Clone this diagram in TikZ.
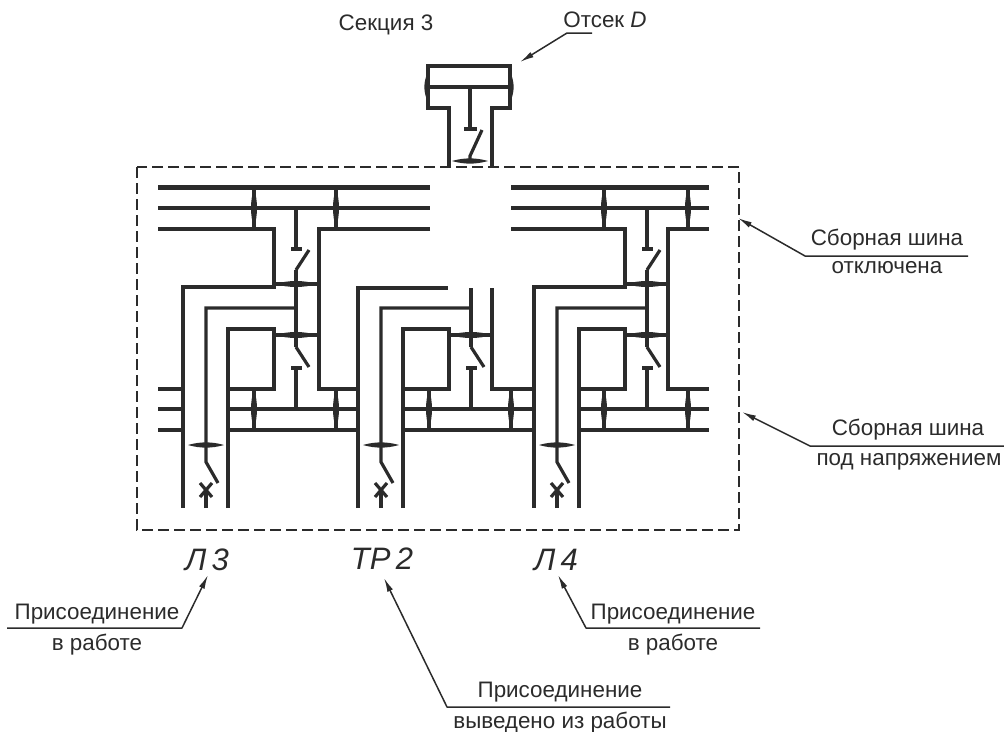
\documentclass[tikz,border=0pt]{standalone}
\usepackage{fontspec}
\setmainfont{Liberation Sans}
\usetikzlibrary{arrows.meta}
\definecolor{ink}{HTML}{2B2B2B}
\tikzset{
  wire/.style={draw=ink,line width=3.2pt,line join=miter},
  heavy/.style={draw=ink,line width=4.5pt},
  frame/.style={draw=ink,line width=1.8pt,dash pattern=on 11pt off 5pt},
  leader/.style={draw=ink,line width=1.5pt,line join=round},
  tipped/.style={leader,{Latex[length=14pt,width=6pt]}-},
  lab/.style={anchor=base,inner sep=0pt,text=ink,font=\fontsize{22.4}{26}\selectfont},
  tag/.style={anchor=base,inner sep=0pt,text=ink,font=\fontsize{31}{36}\selectfont\itshape},
  lensh/.pic={\fill[ink] (-21,0) .. controls (-7,-4) and (7,-4) .. (21,0) .. controls (7,4) and (-7,4) .. (-21,0);},
  lensf/.pic={\fill[ink] (-18,0) .. controls (-6,-3.5) and (6,-3.5) .. (18,0) .. controls (6,3.5) and (-6,3.5) .. (-18,0);},
  lensv/.pic={\fill[ink] (0,-20) .. controls (-4,-7) and (-4,7) .. (0,20) .. controls (4,7) and (4,-7) .. (0,-20);},
  lenss/.pic={\fill[ink] (0,-13) .. controls (-3.5,-4) and (-3.5,4) .. (0,13) .. controls (3.5,4) and (3.5,-4) .. (0,-13);}
}
\begin{document}
\begin{tikzpicture}[x=1pt,y=-1pt]
\useasboundingbox (0,0) rectangle (1004,731);
% frame
\draw[frame] (137,167) rectangle (739,530);
% compartment D
\draw[wire] (449,167) -- (449,108) -- (428,108) -- (428,66) -- (510,66) -- (510,108) -- (492,108) -- (492,167);
\draw[wire] (428,87) -- (510,87);
\draw[wire] (470,87) -- (470,129);
\draw[wire] (464,129) -- (477,129);
\draw[wire] (470,160) -- (470,156) -- (482,130);
\pic at (470,161) {lensf};
\pic at (427,87) {lenss};
\pic at (511,87) {lenss};
% upper buses
\draw[heavy] (158,187.5) -- (430,187.5);
\draw[heavy] (511,187.5) -- (709,187.5);
\draw[wire] (158,208) -- (430,208);
\draw[wire] (511,208) -- (709,208);
% left outer wiring
\draw[wire] (158,229) -- (274,229) -- (274,287) -- (183,287) -- (183,508);
\draw[wire] (430,229) -- (319,229) -- (319,389) -- (358,389);
% right outer wiring
\draw[wire] (511,229) -- (625,229) -- (625,287) -- (534,287) -- (534,508);
\draw[wire] (709,229) -- (668,229) -- (668,389) -- (709,389);
% centre wiring
\draw[wire] (358,508) -- (358,288) -- (448,288);
\draw[wire] (492,288) -- (492,389) -- (535,389);
\draw[wire] (448,335) -- (492,335);
% cross bars
\draw[wire] (319,284) -- (276,284);
\draw[wire] (319,335) -- (274,335);
\draw[wire] (668,284) -- (627,284);
\draw[wire] (668,335) -- (625,335);
% lower bus stubs
\draw[wire] (158,389) -- (183,389);
\draw[wire] (158,409) -- (183,409);
\draw[heavy] (158,430) -- (183,430);
% repeated feeder bays
\foreach \dx in {0,175,351}{
\begin{scope}[xshift=\dx pt]
\draw[wire] (296,308) -- (206,308) -- (206,462) -- (218,483);
\draw[wire] (206,508) -- (206,490);
\draw[wire] (200,483) -- (212,497) (212,483) -- (200,497);
\draw[wire] (228,508) -- (228,329) -- (274,329) -- (274,389) -- (228,389);
\pic at (206,445) {lensf};
\draw[wire] (296,347) -- (309,367);
\draw[wire] (291,368) -- (302,368);
\draw[wire] (296,368) -- (296,409);
\pic at (296,335) {lensh};
\end{scope}
}
% breaker stems
\draw[wire] (296,270) -- (296,347);
\draw[wire] (471,288) -- (471,347);
\draw[wire] (647,270) -- (647,347);
% lower buses
\draw[wire] (228,409) -- (358,409);
\draw[wire] (403,409) -- (535,409);
\draw[wire] (579,409) -- (709,409);
\draw[heavy] (228,430) -- (358,430);
\draw[heavy] (403,430) -- (535,430);
\draw[heavy] (579,430) -- (709,430);
% upper disconnectors
\draw[wire] (296,208) -- (296,249);
\draw[wire] (291,249) -- (302,249);
\draw[wire] (296,270) -- (309,250);
\draw[wire] (647,208) -- (647,249);
\draw[wire] (642,249) -- (653,249);
\draw[wire] (647,270) -- (660,250);
\pic at (296,284) {lensh};
\pic at (647,284) {lensh};
% contact lenses on the buses
\foreach \xx in {254,336,604,688}{
  \draw[wire] (\xx,187) -- (\xx,229);
  \pic at (\xx,208) {lensv};
}
\foreach \xx in {254,336,429,511,604,688}{
  \draw[wire] (\xx,389) -- (\xx,430);
  \pic at (\xx,409) {lensv};
}
% labels
\node[lab] (sec) at (386,30) {Секция 3};
\node[lab] (otsek) at (605,27) {Отсек \textit{D}};
\node[lab] (off1) at (887,245) {Сборная шина};
\node[lab] (off2) at (887,273) {отключена};
\node[lab] (on1) at (908,435) {Сборная шина};
\node[lab] (on2) at (909,465) {под напряжением};
\node[tag] (l3) at (207,570) {Л\,3};
\node[tag] (tr2) at (382,569) {ТР\,2};
\node[tag] (l4) at (556,570) {Л\,4};
\node[lab] (p1) at (97,619) {Присоединение};
\node[lab] (p1b) at (97,650) {в работе};
\node[lab] (p2) at (673,619) {Присоединение};
\node[lab] (p2b) at (673,650) {в работе};
\node[lab] (p3) at (560,697) {Присоединение};
\node[lab] (p3b) at (560,728) {выведено из работы};
% leaders
\coordinate (a1) at (520,62); \coordinate (a2) at (567,33); \coordinate (a3) at (592,33);
\coordinate (b1) at (738,218); \coordinate (b2) at (805,256); \coordinate (b3) at (968,256);
\coordinate (c1) at (742,412); \coordinate (c2) at (810,446); \coordinate (c3) at (1004,446);
\coordinate (d1) at (208,575); \coordinate (d2) at (182,628); \coordinate (d3) at (7,628);
\coordinate (e1) at (558,575); \coordinate (e2) at (586,628); \coordinate (e3) at (760,628);
\coordinate (f1) at (384,578); \coordinate (f2) at (447,707); \coordinate (f3) at (670,707);
\draw[tipped] (a1) -- (a2) -- (a3);
\draw[tipped] (b1) -- (b2) -- (b3);
\draw[tipped] (c1) -- (c2) -- (c3);
\draw[tipped] (d1) -- (d2) -- (d3);
\draw[tipped] (e1) -- (e2) -- (e3);
\draw[tipped] (f1) -- (f2) -- (f3);
\end{tikzpicture}
\end{document}
